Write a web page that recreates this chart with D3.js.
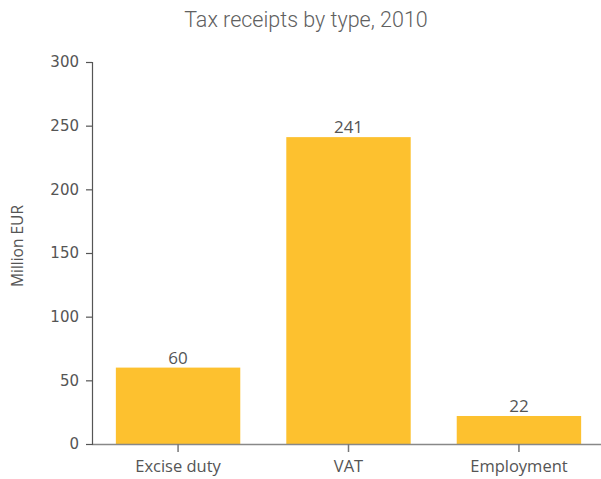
<!DOCTYPE html>
<html><head><meta charset="utf-8">
<script src="https://cdn.jsdelivr.net/npm/d3@7"></script>
<style>body{margin:0;background:#fff}</style>
</head><body>
<script>
const categories = ["Excise duty", "VAT", "Employment"];
const values = [60, 241, 22];
const yTicks = [0, 50, 100, 150, 200, 250, 300];
const title = "Tax receipts by type, 2010";
const yLabel = "Million EUR";

const W = 601, H = 479;
const svg = d3.select("body").append("svg").attr("width", W).attr("height", H);

const x = d3.scaleBand().domain(categories).range([92, 605]).paddingInner(0.27).paddingOuter(0.14);
const y = d3.scaleLinear().domain([0, 300]).range([444, 62]);

svg.append("text").attr("x", 306).attr("y", 27).attr("text-anchor", "middle")
  .attr("font-family", "Roboto, sans-serif").attr("font-weight", 300).attr("font-size", 21.5)
  .attr("fill", "#606060").text(title);

svg.append("g").selectAll("rect").data(values).join("rect")
  .attr("x", (d, i) => x(categories[i])).attr("width", x.bandwidth())
  .attr("y", d => y(d)).attr("height", d => y(0) - y(d))
  .attr("fill", "#fdc12f");

svg.append("g").selectAll("text").data(values).join("text")
  .attr("x", (d, i) => x(categories[i]) + x.bandwidth() / 2)
  .attr("y", d => y(d) - 4).attr("text-anchor", "middle")
  .attr("font-family", "Open Sans, sans-serif").attr("font-size", 17)
  .attr("fill", "#555").text(d => d);

// x axis
const xa = svg.append("g").attr("transform", "translate(0,444)")
  .call(d3.axisBottom(x).tickSize(8).tickSizeOuter(0));
xa.select(".domain").attr("stroke", "#888").attr("stroke-width", 1.5).attr("d", "M92,0.5H601");
xa.selectAll(".tick line").attr("stroke", "#777").attr("stroke-width", 1.5);
xa.selectAll(".tick text").attr("font-family", "Open Sans, sans-serif").attr("font-size", 16.5)
  .attr("fill", "#555").attr("dy", 0).attr("y", 28);

// y axis
const ya = svg.append("g").attr("transform", "translate(92,0)")
  .call(d3.axisLeft(y).tickValues(yTicks).tickSize(6).tickSizeOuter(6).tickPadding(7));
ya.select(".domain").attr("stroke", "#555").attr("stroke-width", 1.2);
ya.selectAll(".tick line").attr("stroke", "#555").attr("stroke-width", 1.2);
ya.selectAll(".tick text").attr("font-family", "DejaVu Sans, sans-serif").attr("font-size", 15)
  .attr("fill", "#555");

svg.append("text").attr("transform", "translate(23,246) rotate(-90)").attr("text-anchor", "middle")
  .attr("font-family", "Open Sans, sans-serif").attr("font-size", 15.5)
  .attr("fill", "#555").text(yLabel);
</script>
</body></html>
